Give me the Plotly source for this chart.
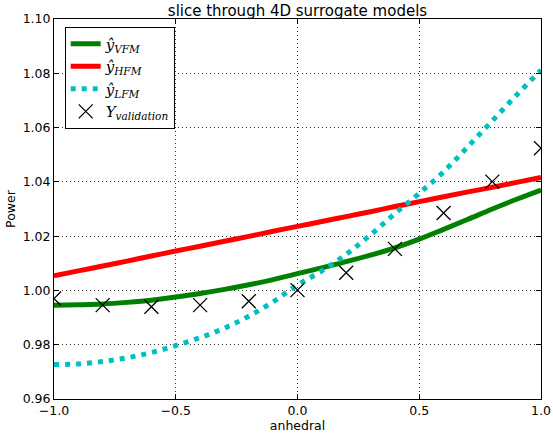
import plotly.graph_objects as go

# ---- data ----
x_curve = [-1.0, -0.9, -0.8, -0.7, -0.6, -0.5, -0.4, -0.3, -0.2, -0.1, 0.0,
           0.1, 0.2, 0.3, 0.4, 0.5, 0.6, 0.7, 0.8, 0.9, 1.0]
y_vfm = [0.9945, 0.9947, 0.9950, 0.9956, 0.9964, 0.9976, 0.9989, 1.0004, 1.0021, 1.0040, 1.0062,
         1.0083, 1.0106, 1.0130, 1.0157, 1.0189, 1.0225, 1.0262, 1.0300, 1.0336, 1.0370]
y_hfm = [1.0054, 1.0072, 1.0090, 1.0108, 1.0127, 1.0145, 1.0163, 1.0181, 1.0199, 1.0218, 1.0236,
         1.0254, 1.0272, 1.0290, 1.0309, 1.0327, 1.0345, 1.0363, 1.0380, 1.0398, 1.0416]
y_lfm = [0.9727, 0.9729, 0.9738, 0.9752, 0.9771, 0.9797, 0.9826, 0.9861, 0.9905, 0.9958, 1.0020,
         1.0072, 1.0133, 1.0205, 1.0283, 1.0358, 1.0437, 1.0530, 1.0625, 1.0720, 1.0812]

x_val = [-1.0, -0.8, -0.6, -0.4, -0.2, 0.0, 0.2, 0.4, 0.6, 0.8, 1.0]
y_val = [0.9970, 0.9946, 0.9940, 0.9946, 0.9960, 1.0001, 1.0065, 1.0153, 1.0285, 1.0401, 1.0524]

x_ticks = [-1.0, -0.5, 0.0, 0.5, 1.0]
y_ticks = [0.96, 0.98, 1.00, 1.02, 1.04, 1.06, 1.08, 1.10]

labels = {
    "vfm": "<i>ŷ</i><sub><i>VFM</i></sub>",
    "hfm": "<i>ŷ</i><sub><i>HFM</i></sub>",
    "lfm": "<i>ŷ</i><sub><i>LFM</i></sub>",
    "val": "<i>Y</i><sub><i>validation</i></sub>",
}

fig = go.Figure()
fig.add_trace(go.Scatter(x=x_curve, y=y_vfm, mode="lines", name=labels["vfm"],
                         line=dict(color="#008000", width=5, shape="spline")))
fig.add_trace(go.Scatter(x=x_curve, y=y_hfm, mode="lines", name=labels["hfm"],
                         line=dict(color="#ff0000", width=5, shape="spline")))
fig.add_trace(go.Scatter(x=x_curve, y=y_lfm, mode="lines", name=labels["lfm"],
                         line=dict(color="#00bfbf", width=5, shape="spline", dash="5px,6px")))
fig.add_trace(go.Scatter(x=x_val, y=y_val, mode="markers", name=labels["val"],
                         marker=dict(symbol="x-thin", size=14, color="black",
                                     line=dict(color="black", width=1.3))))

axis_common = dict(
    showline=True, linecolor="black", linewidth=1, mirror="allticks",
    ticks="inside", ticklen=5, tickcolor="black", tickwidth=1,
    showgrid=True, gridcolor="#333333", griddash="1px,3px", gridwidth=1,
    zeroline=False, automargin=False,
    tickfont=dict(family="DejaVu Sans", size=12.5, color="black"),
)

fig.update_layout(
    template="none",
    width=553, height=436,
    margin=dict(l=54, r=12, t=19, b=37, autoexpand=False),
    paper_bgcolor="white", plot_bgcolor="white",
    title=dict(text="slice through 4D surrogate models", x=0.5, xref="paper",
               y=1 - 11 / 436, yref="container", yanchor="middle", automargin=False,
               font=dict(family="DejaVu Sans", size=15, color="black")),
    xaxis=dict(range=[-1, 1], tickvals=x_ticks, tickformat=".1f",
               title=dict(text="anhedral", standoff=2,
                          font=dict(family="DejaVu Sans", size=12.5, color="black")),
               **axis_common),
    yaxis=dict(range=[0.96, 1.10], tickvals=y_ticks, tickformat=".2f",
               title=dict(text="Power", standoff=4,
                          font=dict(family="DejaVu Sans", size=12.5, color="black")),
               **axis_common),
    legend=dict(x=0.022, y=0.98, xanchor="left", yanchor="top",
                bgcolor="white", bordercolor="black", borderwidth=1,
                font=dict(family="DejaVu Serif", size=15, color="black"),
                tracegroupgap=0, itemwidth=30),
    showlegend=True,
)

fig.write_html("out.html",
               config={"displayModeBar": False},
               post_script="document.body.style.margin='0px';document.body.style.overflow='hidden';")
